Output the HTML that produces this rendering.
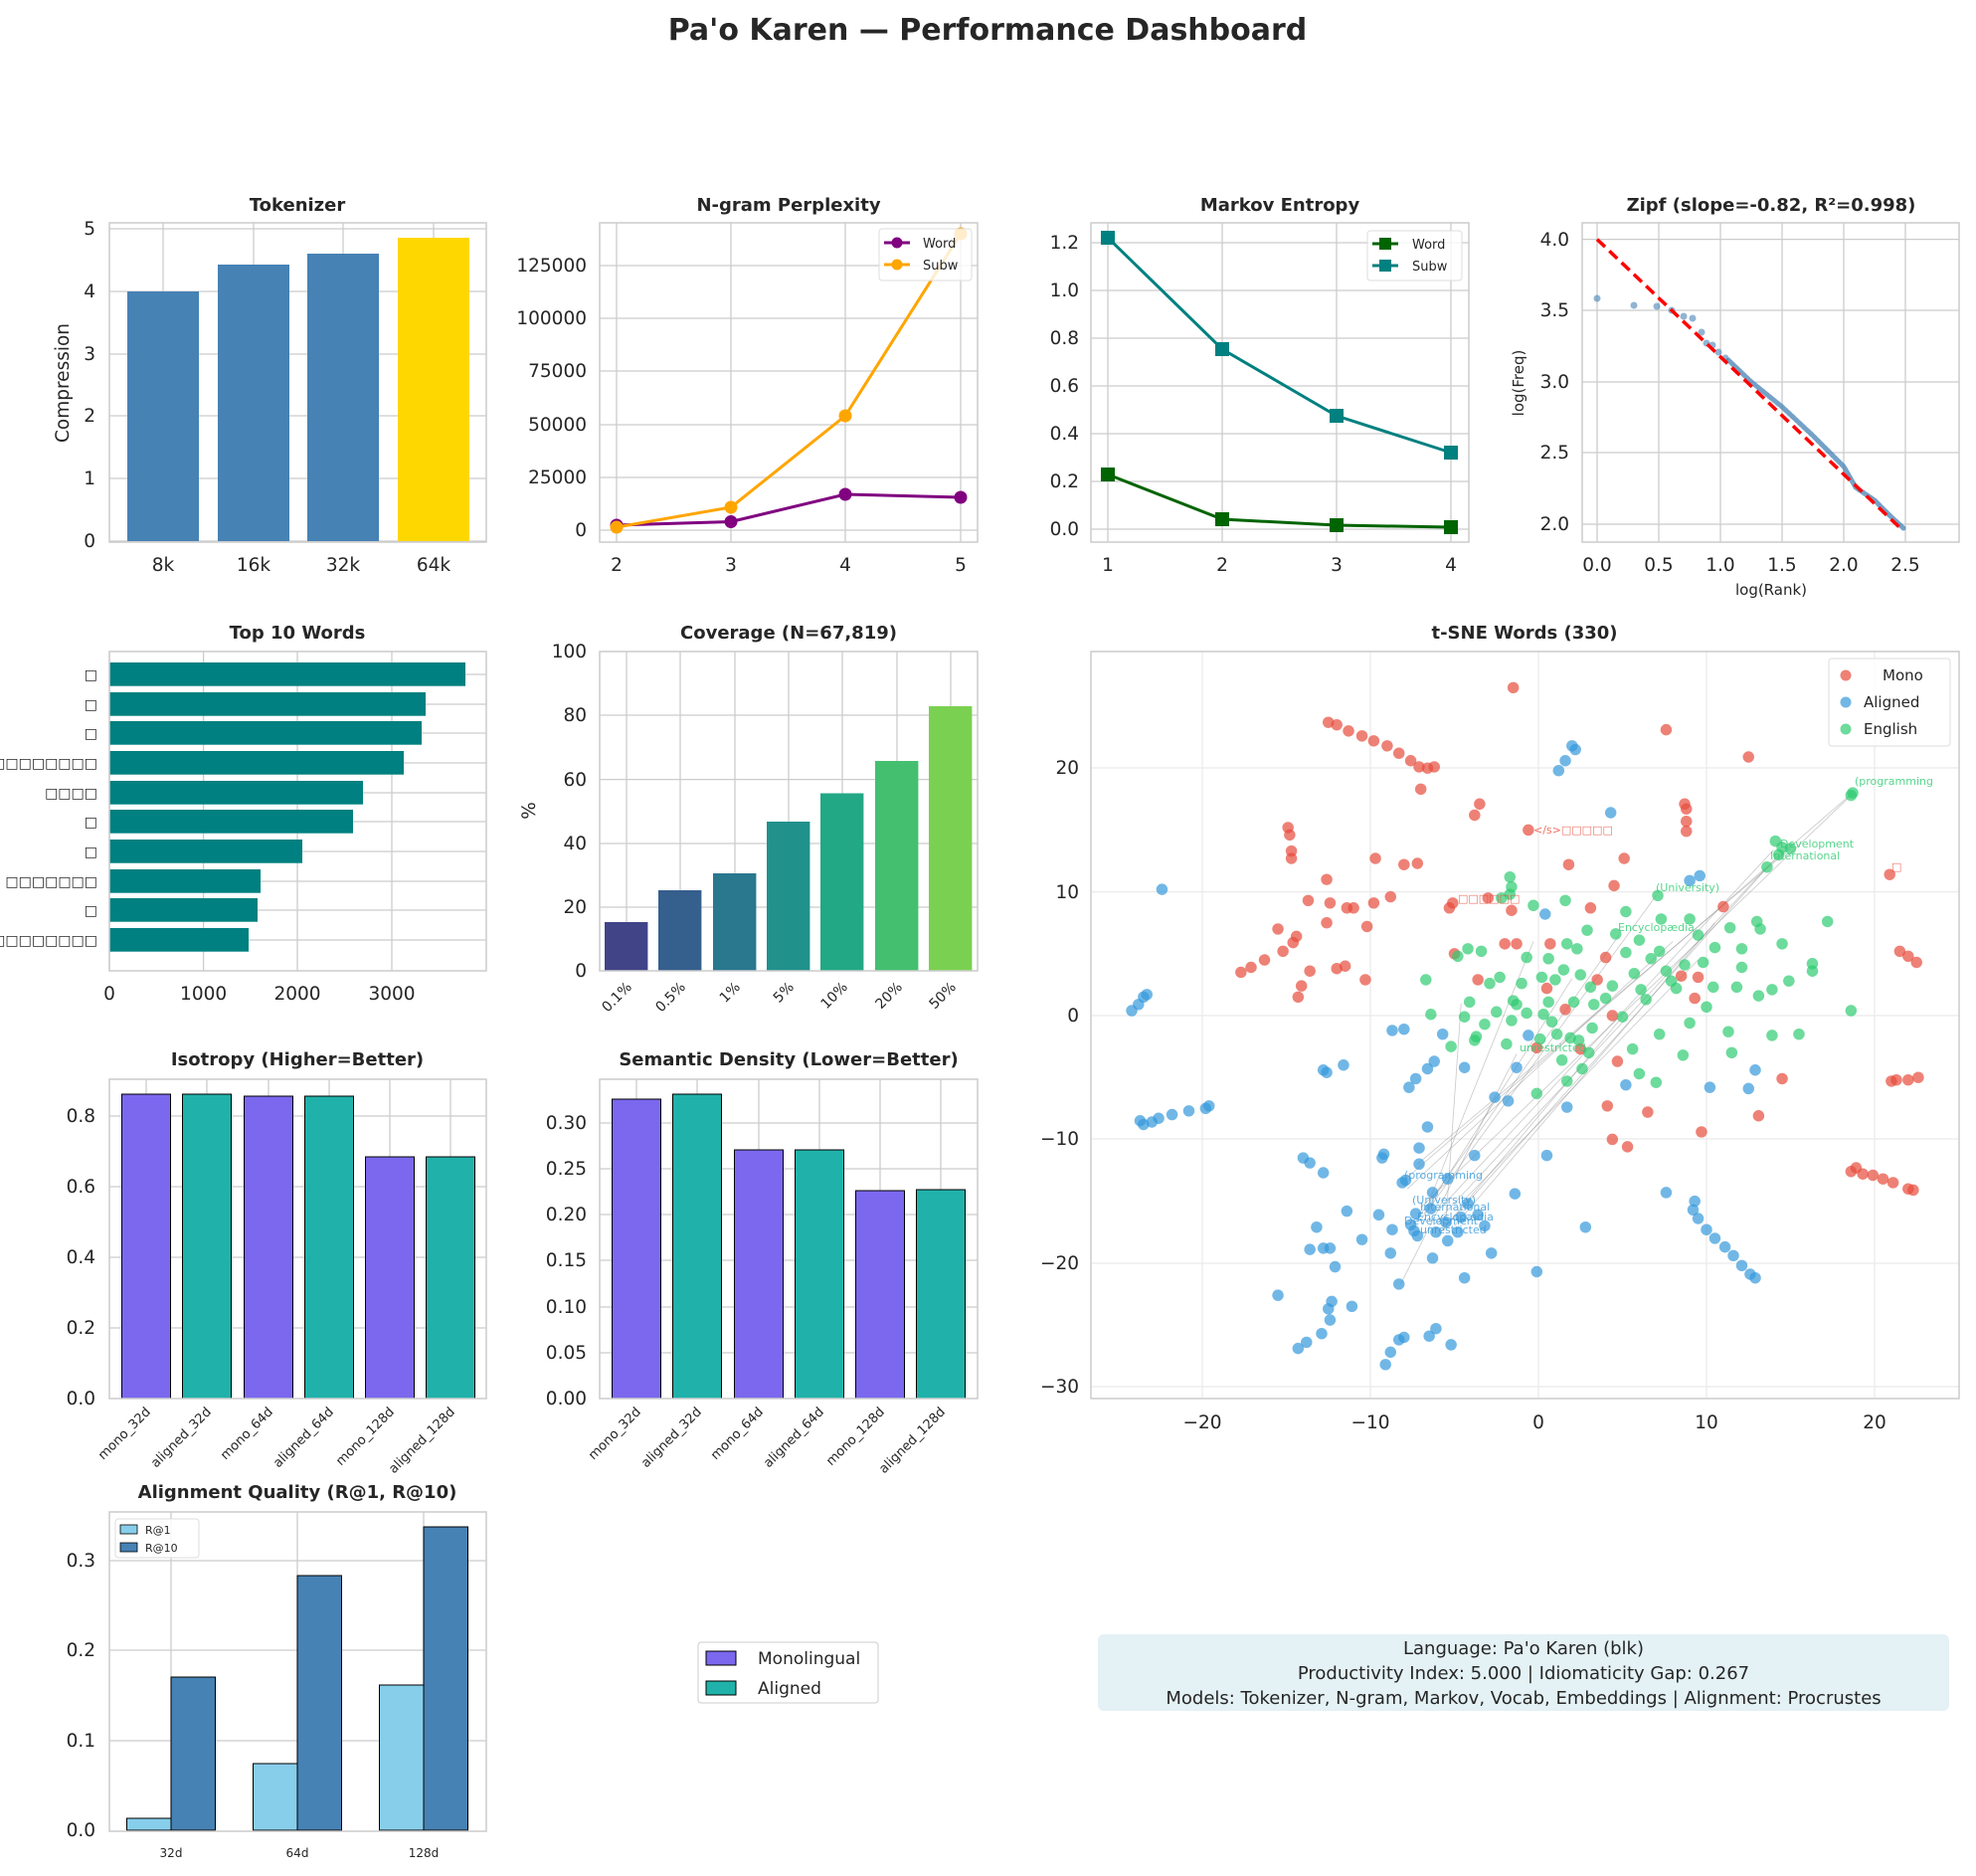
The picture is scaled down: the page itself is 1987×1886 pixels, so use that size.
<!DOCTYPE html>
<html><head><meta charset="utf-8">
<style>
body{margin:0;background:#fff;}
svg{display:block;font-family:"DejaVu Sans","Liberation Sans",sans-serif;}
.t{font-size:18px;font-weight:bold;fill:#262626;text-anchor:middle}
.tk{font-size:18.5px;fill:#262626}
.r{text-anchor:end}
.m{text-anchor:middle}
.g{stroke:#cccccc;stroke-width:1.3}
.sp{fill:none;stroke:#cccccc;stroke-width:1.5}
</style></head><body>
<svg width="1987" height="1886" viewBox="0 0 1987 1886" xmlns="http://www.w3.org/2000/svg">
<rect width="1987" height="1886" fill="#fff"/>
<text x="993" y="40" style="font-size:30px;font-weight:bold;fill:#262626" text-anchor="middle">Pa'o Karen — Performance Dashboard</text>

<!-- Tokenizer -->
<text class="t" x="299" y="212">Tokenizer</text>
<g class="g"><line x1="110" x2="489" y1="544" y2="544"/><line x1="110" x2="489" y1="481" y2="481"/><line x1="110" x2="489" y1="418" y2="418"/><line x1="110" x2="489" y1="356" y2="356"/><line x1="110" x2="489" y1="293" y2="293"/><line x1="110" x2="489" y1="230" y2="230"/>
<line x1="164" x2="164" y1="224" y2="545"/><line x1="255" x2="255" y1="224" y2="545"/><line x1="345" x2="345" y1="224" y2="545"/><line x1="436" x2="436" y1="224" y2="545"/></g>
<rect x="128" y="293" width="72" height="251" fill="#4682b4"/>
<rect x="219" y="266" width="72" height="278" fill="#4682b4"/>
<rect x="309" y="255" width="72" height="289" fill="#4682b4"/>
<rect x="400" y="239" width="72" height="305" fill="#ffd700"/>
<rect class="sp" x="110" y="224" width="379" height="321"/>
<g class="tk r"><text x="96" y="550">0</text><text x="96" y="487">1</text><text x="96" y="424">2</text><text x="96" y="362">3</text><text x="96" y="299">4</text><text x="96" y="236">5</text></g>
<g class="tk m"><text x="164" y="574">8k</text><text x="255" y="574">16k</text><text x="345" y="574">32k</text><text x="436" y="574">64k</text></g>
<text class="tk m" transform="translate(69,385) rotate(-90)">Compression</text>

<!-- N-gram -->
<text class="t" x="793" y="212">N-gram Perplexity</text>
<g class="g"><line x1="603" x2="983" y1="533" y2="533"/><line x1="603" x2="983" y1="480" y2="480"/><line x1="603" x2="983" y1="427" y2="427"/><line x1="603" x2="983" y1="373" y2="373"/><line x1="603" x2="983" y1="320" y2="320"/><line x1="603" x2="983" y1="267" y2="267"/>
<line x1="620" x2="620" y1="224" y2="545"/><line x1="735" x2="735" y1="224" y2="545"/><line x1="850" x2="850" y1="224" y2="545"/><line x1="966" x2="966" y1="224" y2="545"/></g>
<rect class="sp" x="603" y="224" width="380" height="321"/>
<polyline points="620,528 735,524.5 850,497 966,500" fill="none" stroke="#800080" stroke-width="3"/>
<g fill="#800080"><circle cx="620" cy="528" r="6.5"/><circle cx="735" cy="524.5" r="6.5"/><circle cx="850" cy="497" r="6.5"/><circle cx="966" cy="500" r="6.5"/></g>
<polyline points="620,530 735,510 850,418 966,235" fill="none" stroke="#ffa500" stroke-width="3"/>
<g fill="#ffa500"><circle cx="620" cy="530" r="6.5"/><circle cx="735" cy="510" r="6.5"/><circle cx="850" cy="418" r="6.5"/><circle cx="966" cy="235" r="6.5"/></g>
<g class="tk r"><text x="590" y="539">0</text><text x="590" y="486">25000</text><text x="590" y="433">50000</text><text x="590" y="379">75000</text><text x="590" y="326">100000</text><text x="590" y="273">125000</text></g>
<g class="tk m"><text x="620" y="574">2</text><text x="735" y="574">3</text><text x="850" y="574">4</text><text x="966" y="574">5</text></g>
<rect x="884" y="230" width="93" height="52" rx="3" fill="#fff" fill-opacity="0.8" stroke="#ddd"/>
<line x1="889" x2="915" y1="244" y2="244" stroke="#800080" stroke-width="3"/><circle cx="902" cy="244" r="5.5" fill="#800080"/>
<line x1="889" x2="915" y1="266" y2="266" stroke="#ffa500" stroke-width="3"/><circle cx="902" cy="266" r="5.5" fill="#ffa500"/>
<text x="928" y="249" style="font-size:13px;fill:#262626">Word</text><text x="928" y="271" style="font-size:13px;fill:#262626">Subw</text>

<!-- Markov -->
<text class="t" x="1287" y="212">Markov Entropy</text>
<g class="g"><line x1="1097" x2="1477" y1="532" y2="532"/><line x1="1097" x2="1477" y1="484" y2="484"/><line x1="1097" x2="1477" y1="436" y2="436"/><line x1="1097" x2="1477" y1="388" y2="388"/><line x1="1097" x2="1477" y1="340" y2="340"/><line x1="1097" x2="1477" y1="292" y2="292"/><line x1="1097" x2="1477" y1="244" y2="244"/>
<line x1="1114" x2="1114" y1="224" y2="545"/><line x1="1229" x2="1229" y1="224" y2="545"/><line x1="1344" x2="1344" y1="224" y2="545"/><line x1="1459" x2="1459" y1="224" y2="545"/></g>
<rect class="sp" x="1097" y="224" width="380" height="321"/>
<polyline points="1114,239 1229,351 1344,418 1459,455" fill="none" stroke="#008080" stroke-width="3"/>
<g fill="#008080"><rect x="1107" y="232" width="14" height="14"/><rect x="1222" y="344" width="14" height="14"/><rect x="1337" y="411" width="14" height="14"/><rect x="1452" y="448" width="14" height="14"/></g>
<polyline points="1114,477 1229,522 1344,528 1459,530" fill="none" stroke="#006400" stroke-width="3"/>
<g fill="#006400"><rect x="1107" y="470" width="14" height="14"/><rect x="1222" y="515" width="14" height="14"/><rect x="1337" y="521" width="14" height="14"/><rect x="1452" y="523" width="14" height="14"/></g>
<g class="tk r"><text x="1085" y="538">0.0</text><text x="1085" y="490">0.2</text><text x="1085" y="442">0.4</text><text x="1085" y="394">0.6</text><text x="1085" y="346">0.8</text><text x="1085" y="298">1.0</text><text x="1085" y="250">1.2</text></g>
<g class="tk m"><text x="1114" y="574">1</text><text x="1229" y="574">2</text><text x="1344" y="574">3</text><text x="1459" y="574">4</text></g>
<rect x="1375" y="232" width="95" height="50" rx="3" fill="#fff" fill-opacity="0.8" stroke="#ddd"/>
<line x1="1380" x2="1406" y1="245" y2="245" stroke="#006400" stroke-width="3"/><rect x="1387" y="239" width="12" height="12" fill="#006400"/>
<line x1="1380" x2="1406" y1="267" y2="267" stroke="#008080" stroke-width="3"/><rect x="1387" y="261" width="12" height="12" fill="#008080"/>
<text x="1420" y="250" style="font-size:13px;fill:#262626">Word</text><text x="1420" y="272" style="font-size:13px;fill:#262626">Subw</text>

<!-- Zipf -->
<text class="t" x="1781" y="212">Zipf (slope=-0.82, R²=0.998)</text>
<g class="g"><line x1="1591" x2="1970" y1="240.6" y2="240.6"/><line x1="1591" x2="1970" y1="312" y2="312"/><line x1="1591" x2="1970" y1="384" y2="384"/><line x1="1591" x2="1970" y1="455" y2="455"/><line x1="1591" x2="1970" y1="527" y2="527"/>
<line x1="1606" x2="1606" y1="224" y2="545"/><line x1="1668" x2="1668" y1="224" y2="545"/><line x1="1730" x2="1730" y1="224" y2="545"/><line x1="1792" x2="1792" y1="224" y2="545"/><line x1="1854" x2="1854" y1="224" y2="545"/><line x1="1916" x2="1916" y1="224" y2="545"/></g>
<rect class="sp" x="1591" y="224" width="379" height="321"/>
<g fill="#4682b4" fill-opacity="0.6"><circle cx="1606" cy="300" r="3.5"/><circle cx="1643" cy="307" r="3.5"/><circle cx="1666" cy="308" r="3.5"/><circle cx="1681" cy="312" r="3.5"/><circle cx="1693" cy="318" r="3.5"/><circle cx="1702" cy="320" r="3.5"/><circle cx="1711" cy="334" r="3.5"/><circle cx="1716" cy="345" r="3.5"/><circle cx="1722" cy="347" r="3.5"/><circle cx="1728" cy="354" r="3.5"/><circle cx="1735" cy="360" r="3.5"/></g>
<polyline points="1738,362 1760,383 1792,409 1823,438 1854,469 1866,490 1885,503 1900,518 1914,531" fill="none" stroke="#4682b4" stroke-opacity="0.75" stroke-width="5" stroke-linecap="round" stroke-linejoin="round" stroke-dasharray="3,2"/>
<line x1="1606" y1="240.6" x2="1913" y2="533" stroke="#ff0000" stroke-width="3.5" stroke-dasharray="11,6"/>
<g class="tk r"><text x="1578" y="247">4.0</text><text x="1578" y="318">3.5</text><text x="1578" y="390">3.0</text><text x="1578" y="461">2.5</text><text x="1578" y="533">2.0</text></g>
<g class="tk m"><text x="1606" y="574">0.0</text><text x="1668" y="574">0.5</text><text x="1730" y="574">1.0</text><text x="1792" y="574">1.5</text><text x="1854" y="574">2.0</text><text x="1916" y="574">2.5</text></g>
<text x="1781" y="598" style="font-size:15px;fill:#262626" text-anchor="middle">log(Rank)</text>
<text transform="translate(1532,385) rotate(-90)" style="font-size:15px;fill:#262626" text-anchor="middle">log(Freq)</text>

<g transform="translate(0,-5)">
<!-- Top 10 -->
<text class="t" x="299" y="647">Top 10 Words</text>
<g class="g"><line x1="110" x2="110" y1="660" y2="981"/><line x1="204.6" x2="204.6" y1="660" y2="981"/><line x1="299" x2="299" y1="660" y2="981"/><line x1="394" x2="394" y1="660" y2="981"/>
<line x1="110" x2="489" y1="683" y2="683"/><line x1="110" x2="489" y1="713" y2="713"/><line x1="110" x2="489" y1="742" y2="742"/><line x1="110" x2="489" y1="772" y2="772"/><line x1="110" x2="489" y1="802" y2="802"/><line x1="110" x2="489" y1="831" y2="831"/><line x1="110" x2="489" y1="861" y2="861"/><line x1="110" x2="489" y1="891" y2="891"/><line x1="110" x2="489" y1="920" y2="920"/><line x1="110" x2="489" y1="950" y2="950"/></g>
<g fill="#008080"><rect x="110" y="671" width="358" height="23.7"/><rect x="110" y="701" width="318" height="23.7"/><rect x="110" y="730" width="314" height="23.7"/><rect x="110" y="760" width="296" height="23.7"/><rect x="110" y="790" width="255" height="23.7"/><rect x="110" y="819" width="245" height="23.7"/><rect x="110" y="849" width="194" height="23.7"/><rect x="110" y="879" width="152" height="23.7"/><rect x="110" y="908" width="149" height="23.7"/><rect x="110" y="938" width="140" height="23.7"/></g>
<rect class="sp" x="110" y="660" width="379" height="321"/>
<g style="font-size:14px;fill:#262626" text-anchor="end"><text x="98" y="688">□</text><text x="98" y="718">□</text><text x="98" y="747">□</text><text x="98" y="777">□□□□□□□□</text><text x="98" y="807">□□□□</text><text x="98" y="836">□</text><text x="98" y="866">□</text><text x="98" y="896">□□□□□□□</text><text x="98" y="925">□</text><text x="98" y="955">□□□□□□□□</text></g>
<g class="tk m"><text x="110" y="1010">0</text><text x="204.6" y="1010">1000</text><text x="299" y="1010">2000</text><text x="394" y="1010">3000</text></g>

<!-- Coverage -->
<text class="t" x="793" y="647">Coverage (N=67,819)</text>
<g class="g"><line x1="603" x2="983" y1="917" y2="917"/><line x1="603" x2="983" y1="853" y2="853"/><line x1="603" x2="983" y1="788.6" y2="788.6"/><line x1="603" x2="983" y1="724" y2="724"/>
<line x1="630" x2="630" y1="660" y2="981"/><line x1="684" x2="684" y1="660" y2="981"/><line x1="739" x2="739" y1="660" y2="981"/><line x1="793" x2="793" y1="660" y2="981"/><line x1="847" x2="847" y1="660" y2="981"/><line x1="902" x2="902" y1="660" y2="981"/><line x1="956" x2="956" y1="660" y2="981"/></g>
<rect x="608" y="932" width="43.4" height="49" fill="#414487"/>
<rect x="662" y="900" width="43.4" height="81" fill="#355f8d"/>
<rect x="717" y="883" width="43.4" height="98" fill="#2a788e"/>
<rect x="771" y="831" width="43.4" height="150" fill="#21918c"/>
<rect x="825" y="802.5" width="43.4" height="178.5" fill="#22a884"/>
<rect x="880" y="770" width="43.4" height="211" fill="#44bf70"/>
<rect x="934" y="715" width="43.4" height="266" fill="#7ad151"/>
<rect class="sp" x="603" y="660" width="380" height="321"/>
<g class="tk r"><text x="590" y="987">0</text><text x="590" y="923">20</text><text x="590" y="859">40</text><text x="590" y="795">60</text><text x="590" y="730">80</text><text x="590" y="666">100</text></g>
<text class="tk m" transform="translate(538,820) rotate(-90)">%</text>
<g style="font-size:14px;fill:#262626" text-anchor="end"><text transform="translate(636,998) rotate(-45)">0.1%</text><text transform="translate(690,998) rotate(-45)">0.5%</text><text transform="translate(745,998) rotate(-45)">1%</text><text transform="translate(799,998) rotate(-45)">5%</text><text transform="translate(853,998) rotate(-45)">10%</text><text transform="translate(908,998) rotate(-45)">20%</text><text transform="translate(962,998) rotate(-45)">50%</text></g>
</g>

<!-- t-SNE -->
<text class="t" x="1533" y="642">t-SNE Words (330)</text>
<g stroke="#ebebeb" stroke-width="1.3"><line x1="1209" x2="1209" y1="655" y2="1406"/><line x1="1378" x2="1378" y1="655" y2="1406"/><line x1="1547" x2="1547" y1="655" y2="1406"/><line x1="1716" x2="1716" y1="655" y2="1406"/><line x1="1885" x2="1885" y1="655" y2="1406"/>
<line x1="1097" x2="1970" y1="772" y2="772"/><line x1="1097" x2="1970" y1="896.6" y2="896.6"/><line x1="1097" x2="1970" y1="1021" y2="1021"/><line x1="1097" x2="1970" y1="1145" y2="1145"/><line x1="1097" x2="1970" y1="1270" y2="1270"/><line x1="1097" x2="1970" y1="1394" y2="1394"/></g>
<rect class="sp" x="1097" y="655" width="873" height="751"/>
<g transform="translate(1547,1021) scale(16.9,-12.44)">
<g stroke="#888" stroke-opacity="0.45" stroke-width="0.8" fill="none">
<line x1="-8" y1="-13.3" x2="18.7" y2="18" vector-effect="non-scaling-stroke"/><line x1="-7" y1="-15.5" x2="18.6" y2="17.8" vector-effect="non-scaling-stroke"/><line x1="-6" y1="-15.8" x2="14" y2="13.4" vector-effect="non-scaling-stroke"/><line x1="-6.2" y1="-16.9" x2="13.6" y2="12" vector-effect="non-scaling-stroke"/><line x1="-7" y1="-16.5" x2="7" y2="9.7" vector-effect="non-scaling-stroke"/><line x1="-6" y1="-17.8" x2="14.3" y2="13" vector-effect="non-scaling-stroke"/><line x1="-8.2" y1="-21.7" x2="-1.3" y2="-3.1" vector-effect="non-scaling-stroke"/><line x1="-7.5" y1="-17" x2="4.8" y2="6.5" vector-effect="non-scaling-stroke"/><line x1="-5.5" y1="-16.5" x2="-4.6" y2="1" vector-effect="non-scaling-stroke"/><line x1="-6.5" y1="-15" x2="-0.3" y2="6" vector-effect="non-scaling-stroke"/><line x1="-5" y1="-17" x2="10.5" y2="7.5" vector-effect="non-scaling-stroke"/><line x1="-7.2" y1="-12" x2="15" y2="13.5" vector-effect="non-scaling-stroke"/><line x1="-4.5" y1="-15" x2="9.5" y2="4.5" vector-effect="non-scaling-stroke"/><line x1="-6.8" y1="-16" x2="2" y2="3" vector-effect="non-scaling-stroke"/><line x1="-5.7" y1="-17.3" x2="5" y2="-0.1" vector-effect="non-scaling-stroke"/><line x1="-7.8" y1="-14" x2="8" y2="6" vector-effect="non-scaling-stroke"/></g>
<g fill="#e74c3c" fill-opacity="0.7">
<ellipse cx="-12.5" cy="23.7" rx=".34" ry=".46"/><ellipse cx="-12" cy="23.5" rx=".34" ry=".46"/><ellipse cx="-11.3" cy="23" rx=".34" ry=".46"/><ellipse cx="-10.5" cy="22.6" rx=".34" ry=".46"/><ellipse cx="-9.8" cy="22.2" rx=".34" ry=".46"/><ellipse cx="-9" cy="21.8" rx=".34" ry=".46"/><ellipse cx="-8.3" cy="21.2" rx=".34" ry=".46"/><ellipse cx="-7.6" cy="20.6" rx=".34" ry=".46"/><ellipse cx="-7.1" cy="20.1" rx=".34" ry=".46"/><ellipse cx="-6.6" cy="20" rx=".34" ry=".46"/><ellipse cx="-6.2" cy="20.1" rx=".34" ry=".46"/><ellipse cx="-7" cy="18.3" rx=".34" ry=".46"/>
<ellipse cx="-1.5" cy="26.5" rx=".34" ry=".46"/><ellipse cx="7.6" cy="23.1" rx=".34" ry=".46"/><ellipse cx="12.5" cy="20.9" rx=".34" ry=".46"/><ellipse cx="-3.5" cy="17.1" rx=".34" ry=".46"/><ellipse cx="-3.8" cy="16.2" rx=".34" ry=".46"/><ellipse cx="-0.6" cy="15" rx=".34" ry=".46"/><ellipse cx="8.7" cy="17.1" rx=".34" ry=".46"/><ellipse cx="8.8" cy="16.7" rx=".34" ry=".46"/><ellipse cx="8.8" cy="15.7" rx=".34" ry=".46"/><ellipse cx="8.8" cy="14.9" rx=".34" ry=".46"/><ellipse cx="1.8" cy="12.2" rx=".34" ry=".46"/><ellipse cx="5.1" cy="12.7" rx=".34" ry=".46"/><ellipse cx="-14.9" cy="15.2" rx=".34" ry=".46"/><ellipse cx="-14.8" cy="14.6" rx=".34" ry=".46"/><ellipse cx="-14.7" cy="13.3" rx=".34" ry=".46"/><ellipse cx="-14.7" cy="12.7" rx=".34" ry=".46"/><ellipse cx="-12.6" cy="11" rx=".34" ry=".46"/><ellipse cx="-9.7" cy="12.7" rx=".34" ry=".46"/><ellipse cx="-7.2" cy="12.3" rx=".34" ry=".46"/><ellipse cx="-8" cy="12.2" rx=".34" ry=".46"/><ellipse cx="-11" cy="8.7" rx=".34" ry=".46"/><ellipse cx="-11.4" cy="8.7" rx=".34" ry=".46"/><ellipse cx="-12.4" cy="9.1" rx=".34" ry=".46"/><ellipse cx="-13.7" cy="9.3" rx=".34" ry=".46"/><ellipse cx="-8.8" cy="9.6" rx=".34" ry=".46"/><ellipse cx="-9.8" cy="9.1" rx=".34" ry=".46"/><ellipse cx="-10.2" cy="7.2" rx=".34" ry=".46"/><ellipse cx="-12.6" cy="7.5" rx=".34" ry=".46"/><ellipse cx="-5.3" cy="8.7" rx=".34" ry=".46"/><ellipse cx="-5.1" cy="9.1" rx=".34" ry=".46"/><ellipse cx="-1.6" cy="8.5" rx=".34" ry=".46"/><ellipse cx="-2" cy="5.8" rx=".34" ry=".46"/><ellipse cx="0.7" cy="5.8" rx=".34" ry=".46"/><ellipse cx="4.5" cy="10.5" rx=".34" ry=".46"/><ellipse cx="11" cy="8.8" rx=".34" ry=".46"/><ellipse cx="20.9" cy="11.4" rx=".34" ry=".46"/><ellipse cx="21.5" cy="5.2" rx=".34" ry=".46"/><ellipse cx="22" cy="4.8" rx=".34" ry=".46"/><ellipse cx="22.5" cy="4.3" rx=".34" ry=".46"/>
<ellipse cx="-17.7" cy="3.5" rx=".34" ry=".46"/><ellipse cx="-17.1" cy="3.9" rx=".34" ry=".46"/><ellipse cx="-16.3" cy="4.5" rx=".34" ry=".46"/><ellipse cx="-15.5" cy="7" rx=".34" ry=".46"/><ellipse cx="-15.2" cy="5.2" rx=".34" ry=".46"/><ellipse cx="-14.6" cy="5.9" rx=".34" ry=".46"/><ellipse cx="-14.4" cy="6.4" rx=".34" ry=".46"/><ellipse cx="-14.3" cy="1.5" rx=".34" ry=".46"/><ellipse cx="-14.1" cy="2.4" rx=".34" ry=".46"/><ellipse cx="-13.6" cy="3.6" rx=".34" ry=".46"/><ellipse cx="-11.5" cy="4" rx=".34" ry=".46"/><ellipse cx="-12" cy="3.8" rx=".34" ry=".46"/><ellipse cx="-10.3" cy="2.9" rx=".34" ry=".46"/><ellipse cx="-3.6" cy="2.9" rx=".34" ry=".46"/><ellipse cx="3.5" cy="2.9" rx=".34" ry=".46"/><ellipse cx="4" cy="4.7" rx=".34" ry=".46"/><ellipse cx="4.4" cy="0" rx=".34" ry=".46"/><ellipse cx="3.1" cy="8.7" rx=".34" ry=".46"/><ellipse cx="9.3" cy="1.4" rx=".34" ry=".46"/><ellipse cx="9.5" cy="3.1" rx=".34" ry=".46"/><ellipse cx="14.5" cy="-5.1" rx=".34" ry=".46"/><ellipse cx="13.1" cy="-8.1" rx=".34" ry=".46"/><ellipse cx="6.5" cy="-7.8" rx=".34" ry=".46"/><ellipse cx="9.7" cy="-9.4" rx=".34" ry=".46"/><ellipse cx="4.4" cy="-10" rx=".34" ry=".46"/><ellipse cx="5.3" cy="-10.6" rx=".34" ry=".46"/><ellipse cx="4.1" cy="-7.3" rx=".34" ry=".46"/><ellipse cx="4.7" cy="-3.7" rx=".34" ry=".46"/><ellipse cx="-0.1" cy="-2.6" rx=".34" ry=".46"/><ellipse cx="21" cy="-5.3" rx=".34" ry=".46"/><ellipse cx="21.3" cy="-5.2" rx=".34" ry=".46"/><ellipse cx="22" cy="-5.2" rx=".34" ry=".46"/><ellipse cx="22.6" cy="-5" rx=".34" ry=".46"/><ellipse cx="18.6" cy="-12.6" rx=".34" ry=".46"/><ellipse cx="18.9" cy="-12.3" rx=".34" ry=".46"/><ellipse cx="19.3" cy="-12.8" rx=".34" ry=".46"/><ellipse cx="19.9" cy="-12.9" rx=".34" ry=".46"/><ellipse cx="20.5" cy="-13.2" rx=".34" ry=".46"/><ellipse cx="21.1" cy="-13.5" rx=".34" ry=".46"/><ellipse cx="22" cy="-14" rx=".34" ry=".46"/><ellipse cx="22.3" cy="-14.1" rx=".34" ry=".46"/><ellipse cx="-1.3" cy="5.8" rx=".34" ry=".46"/><ellipse cx="1.6" cy="0.5" rx=".34" ry=".46"/><ellipse cx="8.5" cy="3.2" rx=".34" ry=".46"/><ellipse cx="2.5" cy="-2.7" rx=".34" ry=".46"/><ellipse cx="0.5" cy="2.2" rx=".34" ry=".46"/><ellipse cx="-5" cy="5" rx=".34" ry=".46"/><ellipse cx="-3" cy="9.5" rx=".34" ry=".46"/>
</g>
<g fill="#3498db" fill-opacity="0.7">
<ellipse cx="2" cy="21.8" rx=".34" ry=".46"/><ellipse cx="2.2" cy="21.5" rx=".34" ry=".46"/><ellipse cx="1.6" cy="20.6" rx=".34" ry=".46"/><ellipse cx="1.2" cy="19.8" rx=".34" ry=".46"/><ellipse cx="4.3" cy="16.4" rx=".34" ry=".46"/><ellipse cx="-22.4" cy="10.2" rx=".34" ry=".46"/><ellipse cx="-23.5" cy="1.5" rx=".34" ry=".46"/><ellipse cx="-23.8" cy="0.9" rx=".34" ry=".46"/><ellipse cx="-24.2" cy="0.4" rx=".34" ry=".46"/><ellipse cx="-23.3" cy="1.7" rx=".34" ry=".46"/><ellipse cx="-23.7" cy="-8.5" rx=".34" ry=".46"/><ellipse cx="-23.5" cy="-8.8" rx=".34" ry=".46"/><ellipse cx="-23" cy="-8.6" rx=".34" ry=".46"/><ellipse cx="-22.6" cy="-8.3" rx=".34" ry=".46"/><ellipse cx="-21.8" cy="-8" rx=".34" ry=".46"/><ellipse cx="-20.8" cy="-7.7" rx=".34" ry=".46"/><ellipse cx="-19.6" cy="-7.3" rx=".34" ry=".46"/><ellipse cx="-19.8" cy="-7.5" rx=".34" ry=".46"/><ellipse cx="-12.6" cy="-4.6" rx=".34" ry=".46"/><ellipse cx="-12.8" cy="-4.4" rx=".34" ry=".46"/><ellipse cx="-11.6" cy="-4" rx=".34" ry=".46"/><ellipse cx="-8" cy="-1.1" rx=".34" ry=".46"/><ellipse cx="-8.7" cy="-1.2" rx=".34" ry=".46"/><ellipse cx="-7.7" cy="-5.8" rx=".34" ry=".46"/><ellipse cx="-7.3" cy="-5.1" rx=".34" ry=".46"/><ellipse cx="-6.6" cy="-4.3" rx=".34" ry=".46"/><ellipse cx="-6.6" cy="-9" rx=".34" ry=".46"/><ellipse cx="-5.7" cy="-1.5" rx=".34" ry=".46"/><ellipse cx="-4.4" cy="-4.2" rx=".34" ry=".46"/><ellipse cx="-1.3" cy="-4.2" rx=".34" ry=".46"/><ellipse cx="0.4" cy="8.2" rx=".34" ry=".46"/><ellipse cx="-2.6" cy="-6.6" rx=".34" ry=".46"/><ellipse cx="-1.8" cy="-6.9" rx=".34" ry=".46"/><ellipse cx="9" cy="10.9" rx=".34" ry=".46"/><ellipse cx="9.6" cy="11.3" rx=".34" ry=".46"/><ellipse cx="12.9" cy="-4.4" rx=".34" ry=".46"/><ellipse cx="12.5" cy="-5.9" rx=".34" ry=".46"/><ellipse cx="10.2" cy="-5.8" rx=".34" ry=".46"/><ellipse cx="5.2" cy="-5.6" rx=".34" ry=".46"/><ellipse cx="1.7" cy="-7.4" rx=".34" ry=".46"/><ellipse cx="0.5" cy="-11.3" rx=".34" ry=".46"/><ellipse cx="2.8" cy="-17.1" rx=".34" ry=".46"/><ellipse cx="-0.1" cy="-20.7" rx=".34" ry=".46"/><ellipse cx="-1.4" cy="-14.4" rx=".34" ry=".46"/><ellipse cx="-2.8" cy="-19.2" rx=".34" ry=".46"/><ellipse cx="-3.6" cy="-16.1" rx=".34" ry=".46"/><ellipse cx="-14" cy="-11.5" rx=".34" ry=".46"/><ellipse cx="-13.6" cy="-11.9" rx=".34" ry=".46"/><ellipse cx="-12.8" cy="-12.7" rx=".34" ry=".46"/><ellipse cx="-9.2" cy="-11.2" rx=".34" ry=".46"/><ellipse cx="-7.1" cy="-10.7" rx=".34" ry=".46"/><ellipse cx="-7.1" cy="-12" rx=".34" ry=".46"/><ellipse cx="-6.3" cy="-14.3" rx=".34" ry=".46"/><ellipse cx="-8.1" cy="-13.5" rx=".34" ry=".46"/><ellipse cx="-7.9" cy="-13.3" rx=".34" ry=".46"/><ellipse cx="-7.3" cy="-16" rx=".34" ry=".46"/><ellipse cx="-7.6" cy="-16.9" rx=".34" ry=".46"/><ellipse cx="-6.4" cy="-15.6" rx=".34" ry=".46"/><ellipse cx="-4.2" cy="-15.2" rx=".34" ry=".46"/><ellipse cx="-4.6" cy="-16.3" rx=".34" ry=".46"/><ellipse cx="-6.1" cy="-17.5" rx=".34" ry=".46"/><ellipse cx="-5.5" cy="-16.7" rx=".34" ry=".46"/><ellipse cx="-4.8" cy="-17.5" rx=".34" ry=".46"/><ellipse cx="-5.4" cy="-18.2" rx=".34" ry=".46"/><ellipse cx="-4.4" cy="-21.2" rx=".34" ry=".46"/><ellipse cx="-6.3" cy="-19.6" rx=".34" ry=".46"/><ellipse cx="-7.4" cy="-17.4" rx=".34" ry=".46"/><ellipse cx="-7.2" cy="-17.8" rx=".34" ry=".46"/><ellipse cx="-8.7" cy="-17.3" rx=".34" ry=".46"/><ellipse cx="-8.8" cy="-19.2" rx=".34" ry=".46"/><ellipse cx="-9.5" cy="-16.1" rx=".34" ry=".46"/><ellipse cx="-10.5" cy="-18.1" rx=".34" ry=".46"/><ellipse cx="-11.4" cy="-15.8" rx=".34" ry=".46"/><ellipse cx="-12.4" cy="-18.8" rx=".34" ry=".46"/><ellipse cx="-12.8" cy="-18.8" rx=".34" ry=".46"/><ellipse cx="-13.2" cy="-17.1" rx=".34" ry=".46"/><ellipse cx="-13.6" cy="-18.9" rx=".34" ry=".46"/><ellipse cx="-12.1" cy="-20.3" rx=".34" ry=".46"/><ellipse cx="-12.3" cy="-23.1" rx=".34" ry=".46"/><ellipse cx="-12.5" cy="-23.7" rx=".34" ry=".46"/><ellipse cx="-12.4" cy="-24.6" rx=".34" ry=".46"/><ellipse cx="-12.9" cy="-25.7" rx=".34" ry=".46"/><ellipse cx="-11.1" cy="-23.5" rx=".34" ry=".46"/><ellipse cx="-13.8" cy="-26.4" rx=".34" ry=".46"/><ellipse cx="-14.3" cy="-26.9" rx=".34" ry=".46"/><ellipse cx="-15.5" cy="-22.6" rx=".34" ry=".46"/><ellipse cx="-8.3" cy="-21.7" rx=".34" ry=".46"/><ellipse cx="-8.3" cy="-26.2" rx=".34" ry=".46"/><ellipse cx="-8" cy="-26" rx=".34" ry=".46"/><ellipse cx="-9.1" cy="-28.2" rx=".34" ry=".46"/><ellipse cx="-8.8" cy="-27.2" rx=".34" ry=".46"/><ellipse cx="-6.5" cy="-25.9" rx=".34" ry=".46"/><ellipse cx="-6.1" cy="-25.3" rx=".34" ry=".46"/><ellipse cx="-5.2" cy="-26.6" rx=".34" ry=".46"/><ellipse cx="7.6" cy="-14.3" rx=".34" ry=".46"/><ellipse cx="9.3" cy="-15" rx=".34" ry=".46"/><ellipse cx="9.2" cy="-15.7" rx=".34" ry=".46"/><ellipse cx="9.5" cy="-16.4" rx=".34" ry=".46"/><ellipse cx="10" cy="-17.3" rx=".34" ry=".46"/><ellipse cx="10.5" cy="-18" rx=".34" ry=".46"/><ellipse cx="11.1" cy="-18.7" rx=".34" ry=".46"/><ellipse cx="11.6" cy="-19.4" rx=".34" ry=".46"/><ellipse cx="12.1" cy="-20.2" rx=".34" ry=".46"/><ellipse cx="12.6" cy="-20.9" rx=".34" ry=".46"/><ellipse cx="12.9" cy="-21.2" rx=".34" ry=".46"/><ellipse cx="-0.6" cy="-1.6" rx=".34" ry=".46"/><ellipse cx="-6.2" cy="-3.7" rx=".34" ry=".46"/><ellipse cx="-3.8" cy="-11.3" rx=".34" ry=".46"/><ellipse cx="-5.4" cy="-13.2" rx=".34" ry=".46"/><ellipse cx="-9.3" cy="-11.5" rx=".34" ry=".46"/><ellipse cx="-3.2" cy="-17" rx=".34" ry=".46"/>
</g>
<g fill="#2ecc71" fill-opacity="0.7">
<ellipse cx="18.7" cy="18" rx=".34" ry=".46"/><ellipse cx="18.6" cy="17.8" rx=".34" ry=".46"/><ellipse cx="14.1" cy="14.1" rx=".34" ry=".46"/><ellipse cx="14.5" cy="13.6" rx=".34" ry=".46"/><ellipse cx="14.3" cy="13" rx=".34" ry=".46"/><ellipse cx="15" cy="13.5" rx=".34" ry=".46"/><ellipse cx="13.6" cy="12" rx=".34" ry=".46"/><ellipse cx="-1.7" cy="11.2" rx=".34" ry=".46"/><ellipse cx="-1.6" cy="10.4" rx=".34" ry=".46"/><ellipse cx="-1.7" cy="9.8" rx=".34" ry=".46"/><ellipse cx="-2.2" cy="9.5" rx=".34" ry=".46"/><ellipse cx="1.6" cy="9.3" rx=".34" ry=".46"/><ellipse cx="7.1" cy="9.7" rx=".34" ry=".46"/><ellipse cx="7.3" cy="7.8" rx=".34" ry=".46"/><ellipse cx="9" cy="7.8" rx=".34" ry=".46"/><ellipse cx="9.5" cy="6.5" rx=".34" ry=".46"/><ellipse cx="11.4" cy="7.1" rx=".34" ry=".46"/><ellipse cx="13" cy="7.6" rx=".34" ry=".46"/><ellipse cx="13.2" cy="7" rx=".34" ry=".46"/><ellipse cx="14.5" cy="5.8" rx=".34" ry=".46"/><ellipse cx="17.2" cy="7.6" rx=".34" ry=".46"/><ellipse cx="16.3" cy="4.2" rx=".34" ry=".46"/><ellipse cx="16.3" cy="3.6" rx=".34" ry=".46"/><ellipse cx="14.9" cy="2.8" rx=".34" ry=".46"/><ellipse cx="13.9" cy="2.1" rx=".34" ry=".46"/><ellipse cx="13.1" cy="1.6" rx=".34" ry=".46"/><ellipse cx="13.9" cy="-1.6" rx=".34" ry=".46"/><ellipse cx="15.5" cy="-1.5" rx=".34" ry=".46"/><ellipse cx="18.6" cy="0.4" rx=".34" ry=".46"/><ellipse cx="11.5" cy="-3" rx=".34" ry=".46"/><ellipse cx="8.6" cy="-3.2" rx=".34" ry=".46"/><ellipse cx="7.2" cy="-1.5" rx=".34" ry=".46"/><ellipse cx="5" cy="-0.1" rx=".34" ry=".46"/><ellipse cx="7" cy="-5.4" rx=".34" ry=".46"/><ellipse cx="6" cy="-4.7" rx=".34" ry=".46"/><ellipse cx="3" cy="-3" rx=".34" ry=".46"/><ellipse cx="2.6" cy="-4.3" rx=".34" ry=".46"/><ellipse cx="1.7" cy="-5.3" rx=".34" ry=".46"/><ellipse cx="1.4" cy="-3.6" rx=".34" ry=".46"/><ellipse cx="-0.1" cy="-6.3" rx=".34" ry=".46"/><ellipse cx="-3.7" cy="-1.7" rx=".34" ry=".46"/><ellipse cx="-3.8" cy="-2" rx=".34" ry=".46"/><ellipse cx="-3.2" cy="-0.7" rx=".34" ry=".46"/><ellipse cx="-2.5" cy="0.3" rx=".34" ry=".46"/><ellipse cx="-1.5" cy="1.2" rx=".34" ry=".46"/><ellipse cx="-4.1" cy="1.1" rx=".34" ry=".46"/><ellipse cx="-4.4" cy="-0.1" rx=".34" ry=".46"/><ellipse cx="-6.4" cy="0.1" rx=".34" ry=".46"/><ellipse cx="-4.8" cy="4.8" rx=".34" ry=".46"/><ellipse cx="-6.7" cy="2.9" rx=".34" ry=".46"/><ellipse cx="-3.4" cy="5.2" rx=".34" ry=".46"/><ellipse cx="-2.9" cy="2.6" rx=".34" ry=".46"/><ellipse cx="-2.3" cy="3.1" rx=".34" ry=".46"/><ellipse cx="-1.9" cy="-2.3" rx=".34" ry=".46"/><ellipse cx="-1.3" cy="0.9" rx=".34" ry=".46"/><ellipse cx="-0.7" cy="0.2" rx=".34" ry=".46"/><ellipse cx="0.3" cy="0.1" rx=".34" ry=".46"/><ellipse cx="0.6" cy="1.1" rx=".34" ry=".46"/><ellipse cx="1" cy="2.9" rx=".34" ry=".46"/><ellipse cx="1.5" cy="3.7" rx=".34" ry=".46"/><ellipse cx="2.1" cy="1.1" rx=".34" ry=".46"/><ellipse cx="2.5" cy="3.3" rx=".34" ry=".46"/><ellipse cx="3.1" cy="2.3" rx=".34" ry=".46"/><ellipse cx="3.3" cy="0.9" rx=".34" ry=".46"/><ellipse cx="4" cy="1.4" rx=".34" ry=".46"/><ellipse cx="4.4" cy="2.4" rx=".34" ry=".46"/><ellipse cx="5.6" cy="-2.7" rx=".34" ry=".46"/><ellipse cx="5.7" cy="3.4" rx=".34" ry=".46"/><ellipse cx="6.1" cy="2.1" rx=".34" ry=".46"/><ellipse cx="6.4" cy="1.3" rx=".34" ry=".46"/><ellipse cx="6.7" cy="4.6" rx=".34" ry=".46"/><ellipse cx="7.2" cy="5.2" rx=".34" ry=".46"/><ellipse cx="7.6" cy="3.6" rx=".34" ry=".46"/><ellipse cx="7.9" cy="2.8" rx=".34" ry=".46"/><ellipse cx="8.2" cy="2.2" rx=".34" ry=".46"/><ellipse cx="8.7" cy="4.1" rx=".34" ry=".46"/><ellipse cx="9.8" cy="4.3" rx=".34" ry=".46"/><ellipse cx="10" cy="0.7" rx=".34" ry=".46"/><ellipse cx="10.4" cy="2.3" rx=".34" ry=".46"/><ellipse cx="11.3" cy="-1.3" rx=".34" ry=".46"/><ellipse cx="11.8" cy="2.3" rx=".34" ry=".46"/><ellipse cx="12.1" cy="3.9" rx=".34" ry=".46"/><ellipse cx="12.1" cy="5.4" rx=".34" ry=".46"/><ellipse cx="-1.6" cy="-0.4" rx=".34" ry=".46"/><ellipse cx="1.1" cy="-1.5" rx=".34" ry=".46"/><ellipse cx="0.1" cy="-1.9" rx=".34" ry=".46"/><ellipse cx="1.9" cy="-1.8" rx=".34" ry=".46"/><ellipse cx="3.2" cy="-1" rx=".34" ry=".46"/><ellipse cx="2.3" cy="5.4" rx=".34" ry=".46"/><ellipse cx="2.9" cy="6.9" rx=".34" ry=".46"/><ellipse cx="4.6" cy="6.6" rx=".34" ry=".46"/><ellipse cx="5.2" cy="8.4" rx=".34" ry=".46"/><ellipse cx="6" cy="6.1" rx=".34" ry=".46"/><ellipse cx="5.2" cy="5.1" rx=".34" ry=".46"/><ellipse cx="-0.7" cy="4.7" rx=".34" ry=".46"/><ellipse cx="0.2" cy="3.1" rx=".34" ry=".46"/><ellipse cx="0.6" cy="4.6" rx=".34" ry=".46"/><ellipse cx="1.7" cy="5.8" rx=".34" ry=".46"/><ellipse cx="-1" cy="2.6" rx=".34" ry=".46"/><ellipse cx="-4.2" cy="5.4" rx=".34" ry=".46"/><ellipse cx="2.4" cy="-2" rx=".34" ry=".46"/><ellipse cx="0.8" cy="-0.5" rx=".34" ry=".46"/><ellipse cx="9" cy="-0.6" rx=".34" ry=".46"/><ellipse cx="-0.3" cy="8.9" rx=".34" ry=".46"/><ellipse cx="10.5" cy="5.5" rx=".34" ry=".46"/><ellipse cx="-5.2" cy="-2.5" rx=".34" ry=".46"/>
</g>
</g>
<g style="font-size:11px" fill-opacity="0.8">
<text x="1865" y="789" fill="#2ecc71">(programming</text><text x="1790" y="852" fill="#2ecc71">Development</text><text x="1780" y="864" fill="#2ecc71">International</text><text x="1665" y="896" fill="#2ecc71">(University)</text><text x="1627" y="936" fill="#2ecc71">Encyclopædia</text><text x="1528" y="1057" fill="#2ecc71">unrestricted</text>
<text x="1542" y="838" fill="#e74c3c">&lt;/s&gt;□□□□□</text><text x="1466" y="907" fill="#e74c3c">□□□□□□</text><text x="1902" y="875" fill="#e74c3c">□</text>
<text x="1412" y="1185" fill="#3498db">(programming</text><text x="1420" y="1210" fill="#3498db">(University)</text><text x="1428" y="1217" fill="#3498db">International</text><text x="1425" y="1227" fill="#3498db">Encyclopædia</text><text x="1412" y="1231" fill="#3498db">Development</text><text x="1428" y="1240" fill="#3498db">unrestricted</text>
</g>
<g class="tk r"><text x="1085" y="778">20</text><text x="1085" y="903">10</text><text x="1085" y="1027">0</text><text x="1085" y="1151">−10</text><text x="1085" y="1276">−20</text><text x="1085" y="1400">−30</text></g>
<g class="tk m"><text x="1209" y="1436">−20</text><text x="1378" y="1436">−10</text><text x="1547" y="1436">0</text><text x="1716" y="1436">10</text><text x="1885" y="1436">20</text></g>
<rect x="1839" y="662" width="122" height="88" rx="3" fill="#fff" fill-opacity="0.85" stroke="#ddd"/>
<circle cx="1856" cy="679" r="5.5" fill="#e74c3c" fill-opacity="0.7"/><circle cx="1856" cy="706" r="5.5" fill="#3498db" fill-opacity="0.7"/><circle cx="1856" cy="733" r="5.5" fill="#2ecc71" fill-opacity="0.7"/>
<g style="font-size:15px;fill:#262626"><text x="1893" y="684">Mono</text><text x="1874" y="711">Aligned</text><text x="1874" y="738">English</text></g>

<g transform="translate(0,-10)">
<!-- Isotropy -->
<text class="t" x="299" y="1081">Isotropy (Higher=Better)</text>
<g class="g"><line x1="110" x2="489" y1="1345" y2="1345"/><line x1="110" x2="489" y1="1274" y2="1274"/><line x1="110" x2="489" y1="1203" y2="1203"/><line x1="110" x2="489" y1="1132" y2="1132"/>
<line x1="147" x2="147" y1="1095" y2="1416"/><line x1="208" x2="208" y1="1095" y2="1416"/><line x1="270" x2="270" y1="1095" y2="1416"/><line x1="331" x2="331" y1="1095" y2="1416"/><line x1="392" x2="392" y1="1095" y2="1416"/><line x1="453" x2="453" y1="1095" y2="1416"/></g>
<g stroke="#000" stroke-width="1"><rect x="122.5" y="1110" width="49" height="306" fill="#7b68ee"/><rect x="183.5" y="1110" width="49" height="306" fill="#20b2aa"/><rect x="245.5" y="1112" width="49" height="304" fill="#7b68ee"/><rect x="306.5" y="1112" width="49" height="304" fill="#20b2aa"/><rect x="367.5" y="1173" width="49" height="243" fill="#7b68ee"/><rect x="428.5" y="1173" width="49" height="243" fill="#20b2aa"/></g>
<rect class="sp" x="110" y="1095" width="379" height="321"/>
<g class="tk r"><text x="96" y="1422">0.0</text><text x="96" y="1351">0.2</text><text x="96" y="1280">0.4</text><text x="96" y="1209">0.6</text><text x="96" y="1138">0.8</text></g>
<g style="font-size:13px;fill:#262626" text-anchor="end"><text transform="translate(152,1430) rotate(-45)">mono_32d</text><text transform="translate(213,1430) rotate(-45)">aligned_32d</text><text transform="translate(275,1430) rotate(-45)">mono_64d</text><text transform="translate(336,1430) rotate(-45)">aligned_64d</text><text transform="translate(397,1430) rotate(-45)">mono_128d</text><text transform="translate(458,1430) rotate(-45)">aligned_128d</text></g>

<!-- Semantic density -->
<text class="t" x="793" y="1081">Semantic Density (Lower=Better)</text>
<g class="g"><line x1="603" x2="983" y1="1370" y2="1370"/><line x1="603" x2="983" y1="1324" y2="1324"/><line x1="603" x2="983" y1="1277" y2="1277"/><line x1="603" x2="983" y1="1231" y2="1231"/><line x1="603" x2="983" y1="1185" y2="1185"/><line x1="603" x2="983" y1="1139" y2="1139"/>
<line x1="640" x2="640" y1="1095" y2="1416"/><line x1="701" x2="701" y1="1095" y2="1416"/><line x1="763" x2="763" y1="1095" y2="1416"/><line x1="824" x2="824" y1="1095" y2="1416"/><line x1="885" x2="885" y1="1095" y2="1416"/><line x1="946" x2="946" y1="1095" y2="1416"/></g>
<g stroke="#000" stroke-width="1"><rect x="615.5" y="1115" width="49" height="301" fill="#7b68ee"/><rect x="676.5" y="1110" width="49" height="306" fill="#20b2aa"/><rect x="738.5" y="1166" width="49" height="250" fill="#7b68ee"/><rect x="799.5" y="1166" width="49" height="250" fill="#20b2aa"/><rect x="860.5" y="1207" width="49" height="209" fill="#7b68ee"/><rect x="921.5" y="1206" width="49" height="210" fill="#20b2aa"/></g>
<rect class="sp" x="603" y="1095" width="380" height="321"/>
<g class="tk r"><text x="590" y="1422">0.00</text><text x="590" y="1376">0.05</text><text x="590" y="1330">0.10</text><text x="590" y="1283">0.15</text><text x="590" y="1237">0.20</text><text x="590" y="1191">0.25</text><text x="590" y="1145">0.30</text></g>
<g style="font-size:13px;fill:#262626" text-anchor="end"><text transform="translate(645,1430) rotate(-45)">mono_32d</text><text transform="translate(706,1430) rotate(-45)">aligned_32d</text><text transform="translate(768,1430) rotate(-45)">mono_64d</text><text transform="translate(829,1430) rotate(-45)">aligned_64d</text><text transform="translate(890,1430) rotate(-45)">mono_128d</text><text transform="translate(951,1430) rotate(-45)">aligned_128d</text></g>

<!-- Alignment -->
<text class="t" x="299" y="1516">Alignment Quality (R@1, R@10)</text>
<g class="g"><line x1="110" x2="489" y1="1760" y2="1760"/><line x1="110" x2="489" y1="1669" y2="1669"/><line x1="110" x2="489" y1="1579" y2="1579"/>
<line x1="172" x2="172" y1="1530" y2="1851"/><line x1="299" x2="299" y1="1530" y2="1851"/><line x1="426" x2="426" y1="1530" y2="1851"/></g>
<g stroke="#000" stroke-width="1"><rect x="127.5" y="1838" width="44.5" height="12" fill="#87ceeb"/><rect x="172" y="1696" width="44.5" height="154" fill="#4682b4"/><rect x="254.5" y="1783" width="44.5" height="67" fill="#87ceeb"/><rect x="299" y="1594" width="44.5" height="256" fill="#4682b4"/><rect x="381.5" y="1704" width="44.5" height="146" fill="#87ceeb"/><rect x="426" y="1545" width="44.5" height="305" fill="#4682b4"/></g>
<rect class="sp" x="110" y="1530" width="379" height="321"/>
<g class="tk r"><text x="96" y="1856">0.0</text><text x="96" y="1766">0.1</text><text x="96" y="1675">0.2</text><text x="96" y="1585">0.3</text></g>
<g style="font-size:12px;fill:#262626" text-anchor="middle"><text x="172" y="1877">32d</text><text x="299" y="1877">64d</text><text x="426" y="1877">128d</text></g>
<rect x="116" y="1537" width="84" height="39" rx="3" fill="#fff" fill-opacity="0.85" stroke="#ddd"/>
<rect x="121" y="1543" width="17" height="9" fill="#87ceeb" stroke="#000" stroke-width=".8"/><rect x="121" y="1561" width="17" height="9" fill="#4682b4" stroke="#000" stroke-width=".8"/>
<g style="font-size:11px;fill:#262626"><text x="146" y="1552">R@1</text><text x="146" y="1570">R@10</text></g>

<!-- Shared legend -->
<rect x="702" y="1661" width="181" height="61" rx="3" fill="#fff" stroke="#ccc"/>
<rect x="710" y="1670" width="30" height="14" fill="#7b68ee" stroke="#000"/><rect x="710" y="1700" width="30" height="14" fill="#20b2aa" stroke="#000"/>
<g style="font-size:17px;fill:#262626"><text x="762" y="1683">Monolingual</text><text x="762" y="1713">Aligned</text></g>
</g>

<!-- Info box -->
<rect x="1104" y="1643" width="856" height="77" rx="6" fill="#e4f1f5"/>
<g style="font-size:18px;fill:#262626" text-anchor="middle"><text x="1532" y="1663">Language: Pa'o Karen (blk)</text><text x="1532" y="1688">Productivity Index: 5.000  |  Idiomaticity Gap: 0.267</text><text x="1532" y="1713">Models: Tokenizer, N-gram, Markov, Vocab, Embeddings  |  Alignment: Procrustes</text></g>
</svg>
</body></html>
